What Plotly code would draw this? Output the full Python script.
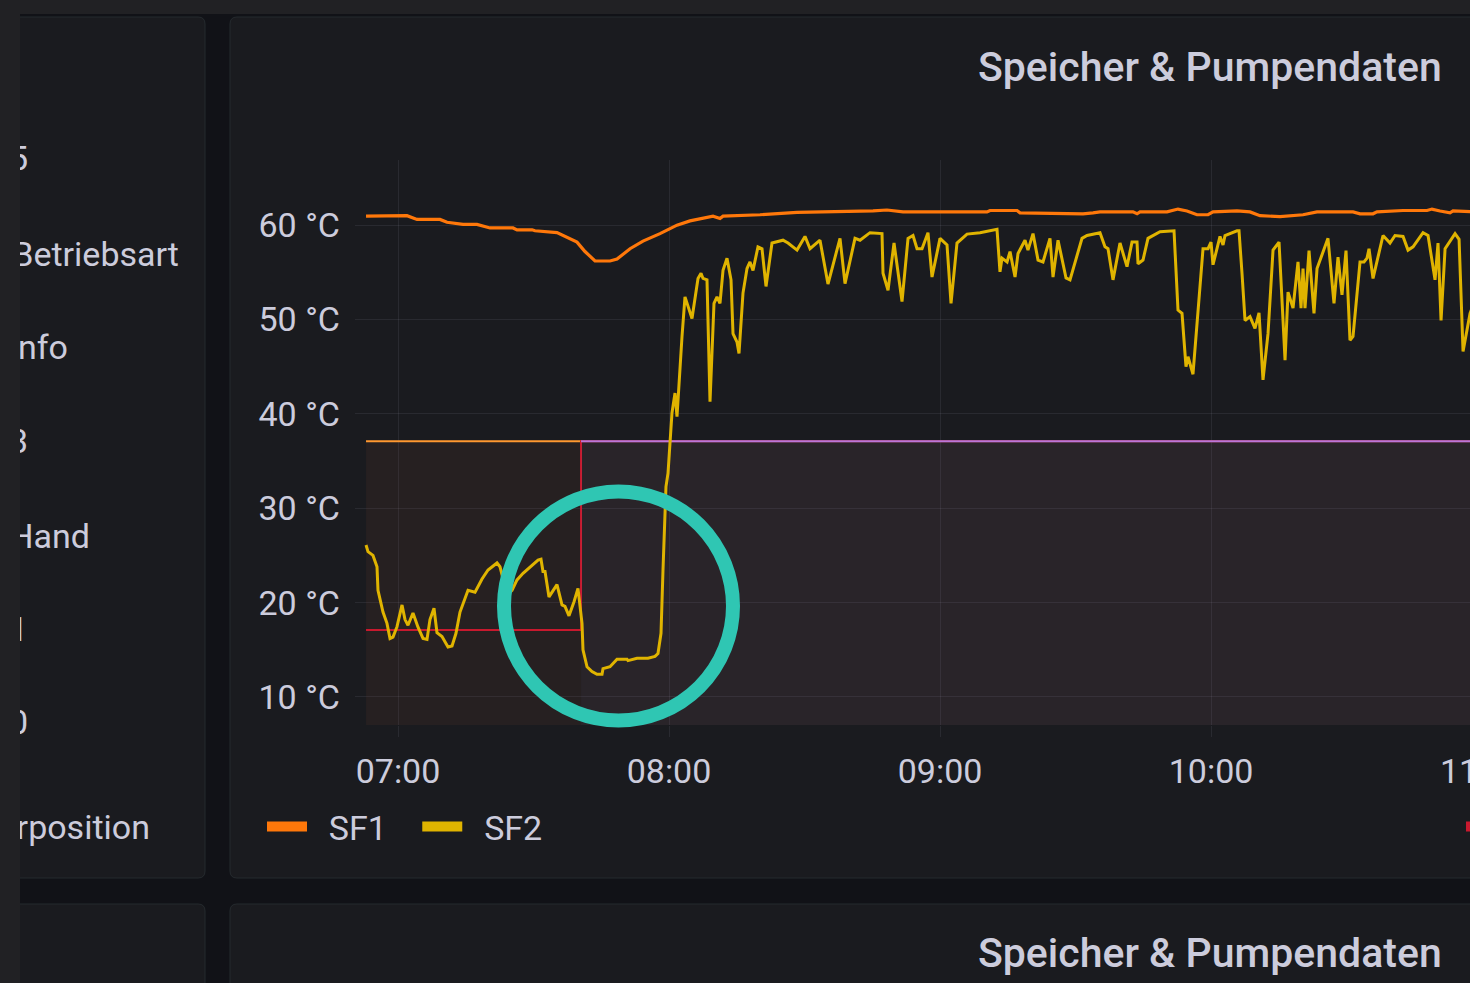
import pandas as pd
import plotly.graph_objects as go

W, H = 1470, 983

# ---------------- data (minutes after 07:00, °C) ----------------
sf1_min = [
    -7.08, 1.99, 4.21, 9.30, 10.85, 14.39, 17.49, 20.37, 25.46, 26.35,
    29.67, 30.33, 35.20, 39.63, 41.40, 43.62, 46.94, 48.49, 51.37, 54.24,
    58.01, 61.77, 64.65, 67.53, 69.74, 71.29, 71.96, 80.15, 88.34, 105.17,
    108.26, 111.81, 130.40, 131.07, 137.05, 137.71, 151.66, 153.87, 155.42, 162.73,
    163.62, 164.28, 170.26, 172.69, 174.68, 176.90, 179.34, 180.44, 185.76, 188.63,
    190.85, 195.28, 200.37, 203.47, 211.44, 212.99, 215.87, 216.75, 222.51, 227.82,
    228.93, 230.70, 232.92, 233.58, 238.45,
]
sf1_val = [
    60.95, 61.0, 60.6, 60.6, 60.3, 60.07, 60.07, 59.7, 59.7, 59.5,
    59.5, 59.4, 59.2, 58.2, 57.2, 56.2, 56.2, 56.4, 57.5, 58.3,
    59.1, 60.0, 60.45, 60.7, 60.95, 60.7, 60.95, 61.1, 61.35, 61.5,
    61.6, 61.4, 61.4, 61.55, 61.55, 61.3, 61.2, 61.3, 61.4, 61.4,
    61.2, 61.4, 61.4, 61.7, 61.5, 61.1, 61.1, 61.4, 61.5, 61.4,
    61.0, 60.9, 61.1, 61.4, 61.4, 61.2, 61.2, 61.4, 61.55, 61.55,
    61.7, 61.5, 61.3, 61.5, 61.4,
]

sf2_min = [
    -7.08, -6.64, -5.54, -4.65, -4.43, -3.32, -2.44, -1.77, -1.11, -0.22,
    0.89, 1.55, 2.21, 3.32, 4.43, 5.54, 6.42, 7.08, 7.97, 8.63,
    9.74, 11.07, 11.96, 12.84, 13.73, 15.50, 17.05, 18.60, 19.93, 21.92,
    22.58, 24.13, 25.24, 26.35, 27.68, 29.67, 31.00, 31.66, 32.10, 32.55,
    33.43, 35.20, 36.31, 36.97, 37.86, 38.97, 39.85, 40.74, 40.96, 41.85,
    42.95, 44.06, 45.17, 45.39, 46.94, 48.49, 50.70, 50.92, 52.92, 55.35,
    56.90, 57.56, 58.23, 58.67, 59.33, 59.78, 60.66, 61.33, 61.77, 62.88,
    63.54, 65.09, 66.42, 67.09, 67.53, 68.41, 69.08, 69.96, 70.63, 71.29,
    71.96, 72.84, 73.73, 74.17, 75.06, 75.50, 76.38, 77.27, 77.93, 78.60,
    79.70, 80.59, 81.48, 82.80, 85.24, 86.35, 88.34, 90.11, 91.22, 93.43,
    95.20, 97.86, 98.97, 101.18, 102.29, 104.50, 107.16, 107.38, 108.49, 109.82,
    111.59, 112.92, 114.02, 114.91, 116.02, 117.34, 118.23, 120.00, 121.55, 122.44,
    123.76, 125.98, 128.86, 132.62, 133.28, 133.73, 134.84, 135.50, 136.61, 137.27,
    138.82, 139.48, 140.59, 141.70, 142.80, 144.35, 145.02, 146.13, 147.90, 148.78,
    151.44, 152.55, 155.42, 156.53, 157.20, 158.30, 159.85, 161.40, 162.51, 163.62,
    163.84, 164.94, 166.05, 168.71, 171.81, 172.69, 173.58, 174.46, 174.91, 176.01,
    176.90, 178.23, 179.34, 180.00, 180.44, 181.99, 182.66, 183.10, 185.76, 186.20,
    186.86, 187.53, 188.63, 189.74, 190.63, 191.51, 192.62, 193.73, 195.06, 195.72,
    196.39, 197.05, 198.16, 199.26, 199.93, 200.37, 200.81, 201.70, 202.80, 203.47,
    205.90, 207.23, 208.12, 209.00, 209.89, 210.77, 211.44, 212.99, 213.87, 214.54,
    214.98, 215.87, 218.08, 219.63, 220.74, 222.51, 223.62, 224.73, 226.94, 228.05,
    229.60, 230.26, 230.93, 231.82, 234.03, 234.92, 235.80, 237.35, 238.45,
]
sf2_val = [
    26.1, 25.4, 25.0, 23.8, 21.3, 19.0, 17.8, 16.2, 16.35, 17.45,
    19.75, 18.2, 17.6, 18.9, 17.4, 16.2, 16.1, 18.2, 19.4, 16.8,
    16.4, 15.3, 15.4, 16.75, 19.0, 21.3, 21.1, 22.5, 23.45, 24.2,
    23.8, 20.8, 21.3, 22.4, 23.1, 23.9, 24.5, 24.6, 23.3, 23.3,
    20.6, 21.9, 19.75, 19.6, 18.6, 20.1, 21.5, 17.8, 15.0, 13.2,
    12.7, 12.4, 12.4, 13.0, 13.2, 14.0, 14.0, 13.85, 14.1, 14.1,
    14.3, 14.6, 16.75, 23.45, 32.3, 33.7, 40.1, 42.2, 39.7, 48.2,
    52.4, 50.1, 54.35, 54.9, 54.35, 54.2, 41.3, 51.7, 52.4, 51.7,
    55.2, 56.5, 54.2, 48.5, 47.6, 46.4, 52.8, 55.4, 56.1, 55.2,
    57.7, 57.5, 53.5, 58.1, 58.4, 58.1, 57.35, 58.8, 57.5, 58.4,
    53.75, 58.6, 53.8, 58.6, 58.4, 59.2, 59.1, 54.9, 53.1, 58.1,
    51.9, 58.6, 58.9, 57.5, 57.5, 59.2, 54.5, 58.6, 57.9, 51.7,
    58.1, 59.05, 59.2, 59.55, 55.05, 56.5, 56.1, 57.2, 54.5, 57.0,
    58.4, 57.35, 59.1, 56.3, 56.1, 58.6, 54.5, 58.4, 54.4, 54.2,
    58.6, 58.9, 59.2, 57.7, 57.5, 54.2, 58.1, 55.6, 58.2, 58.2,
    55.9, 56.3, 58.6, 59.3, 59.4, 51.0, 50.65, 45.0, 46.05, 44.2,
    49.9, 57.5, 57.5, 58.2, 55.8, 58.8, 57.9, 58.9, 59.4, 59.4,
    54.9, 49.9, 50.3, 49.05, 50.7, 43.6, 48.5, 57.35, 58.2, 52.6,
    45.7, 52.9, 51.2, 56.1, 51.2, 55.4, 51.2, 57.3, 50.65, 55.4,
    58.6, 51.7, 56.6, 52.6, 57.3, 47.8, 48.2, 56.1, 56.1, 56.5,
    57.5, 54.35, 58.9, 58.1, 58.9, 58.8, 57.35, 57.7, 59.2, 58.9,
    54.2, 58.1, 49.9, 57.5, 59.1, 58.5, 46.6, 50.65, 52.0,
]

# setpoint / band series (minutes after 07:00, °C)
band_min = [-7.08, 40.52, 238.45]      # start, switch, end
band_upper = [37.1, 37.1, 37.1]
setpoint_val = [17.1, 37.1, 37.1]

y_ticks = [10, 20, 30, 40, 50, 60]
y_tick_text = [f"{v} °C" for v in y_ticks]
x_tick_labels = ["07:00", "08:00", "09:00", "10:00", "11:00"]
panel_title = "Speicher & Pumpendaten"
series_names = ["SF1", "SF2", "Sollwert"]

left_labels = ["5", "Betriebsart", "Info", "3", "Hand", "1", "0", "Mischerposition"]
left_label_right = [28, 179, 68, 28, 90, 28, 28, 150]
left_label_row = [161, 257, 350, 444, 539, 632, 725, 830]

# ---------------- style ----------------
BG = "#111217"
PANEL = "#1a1b1f"
PANEL_LINE = "#252a2e"
STRIP = "#212124"
TEXT = "#ccccdc"
GRID = "rgba(204,204,220,0.09)"
FONT = "Roboto, 'Open Sans', sans-serif"
C_SF1 = "#FF780A"
C_SF2 = "#E0B400"
C_ORANGE = "#FF9830"
C_PURPLE = "#B877D9"
C_RED = "#C8192E"
C_RING = "#2FC6B3"
NB = "\u00a0"

base = pd.Timestamp("2021-03-01 07:00:00")


def tmin(m):
    return base + pd.to_timedelta(pd.Series(m, dtype=float), unit="min")


def X(px):
    return px / W


def Y(py):
    return 1 - py / H


def rpath(x0, y0, x1, y1, r):
    return (f"M{X(x0+r)},{Y(y0)} L{X(x1-r)},{Y(y0)} Q{X(x1)},{Y(y0)} {X(x1)},{Y(y0+r)} "
            f"L{X(x1)},{Y(y1-r)} Q{X(x1)},{Y(y1)} {X(x1-r)},{Y(y1)} "
            f"L{X(x0+r)},{Y(y1)} Q{X(x0)},{Y(y1)} {X(x0)},{Y(y1-r)} "
            f"L{X(x0)},{Y(y0+r)} Q{X(x0)},{Y(y0)} {X(x0+r)},{Y(y0)} Z")


fig = go.Figure()

# band regions
fig.add_trace(go.Scatter(
    x=tmin(band_min[:2]), y=band_upper[:2], mode="lines", fill="tozeroy",
    fillcolor="rgba(146,77,61,0.1)", line=dict(color=C_ORANGE, width=2),
    showlegend=False, hoverinfo="skip"))
fig.add_trace(go.Scatter(
    x=tmin(band_min), y=setpoint_val, mode="lines", line=dict(color=C_RED, width=2, shape="hv"),
    showlegend=False, hoverinfo="skip"))
fig.add_trace(go.Scatter(
    x=tmin(band_min[1:]), y=band_upper[1:], mode="lines", fill="tozeroy",
    fillcolor="rgba(176,117,141,0.1)", line=dict(color=C_PURPLE, width=2),
    showlegend=False, hoverinfo="skip"))

# sensor series
fig.add_trace(go.Scatter(x=tmin(sf1_min), y=sf1_val, mode="lines", name=series_names[0],
                         line=dict(color=C_SF1, width=3.2), showlegend=False))
fig.add_trace(go.Scatter(x=tmin(sf2_min), y=sf2_val, mode="lines", name=series_names[1],
                         line=dict(color=C_SF2, width=3), showlegend=False))

# legend entries
fig.add_trace(go.Scatter(x=[None], y=[None], mode="lines",
                         name=NB * 2 + series_names[0] + NB * 3,
                         line=dict(color=C_SF1, width=10), legend="legend"))
fig.add_trace(go.Scatter(x=[None], y=[None], mode="lines", name=NB * 2 + series_names[1],
                         line=dict(color=C_SF2, width=10), legend="legend"))
fig.add_trace(go.Scatter(x=[None], y=[None], mode="lines", name=NB * 2 + series_names[2],
                         line=dict(color=C_RED, width=10), legend="legend2"))

# left panel labels (clipped by their own subplot)
fig.add_trace(go.Scatter(
    x=left_label_right, y=left_label_row, mode="text", text=left_labels,
    textposition="middle left", textfont=dict(size=34, color=TEXT, family=FONT),
    xaxis="x2", yaxis="y2", showlegend=False, hoverinfo="skip", cliponaxis=True))

shapes = []
# panels
for (x0, y0, x1, y1) in [(-30, 17, 205, 878), (230, 17, 1530, 878),
                         (-30, 904, 205, 1100), (230, 904, 1530, 1100)]:
    shapes.append(dict(type="path", path=rpath(x0, y0, x1, y1, 7), xref="paper", yref="paper",
                       fillcolor=PANEL, line=dict(color=PANEL_LINE, width=1), layer="below"))
# strips
shapes.append(dict(type="rect", xref="paper", yref="paper", x0=X(0), x1=X(W), y0=Y(14), y1=Y(0),
                   fillcolor=STRIP, line=dict(width=0), layer="below"))
shapes.append(dict(type="rect", xref="paper", yref="paper", x0=X(0), x1=X(20), y0=Y(H), y1=Y(0),
                   fillcolor=STRIP, line=dict(width=0), layer="below"))
# highlight ring
cx, cy, r = 618.5, 606, 114.5
shapes.append(dict(type="circle", xref="paper", yref="paper", x0=X(cx - r), x1=X(cx + r),
                   y0=Y(cy + r), y1=Y(cy - r), line=dict(color=C_RING, width=14), layer="above"))

annotations = [
    dict(text=panel_title, x=X(1210), y=Y(67), xref="paper", yref="paper", showarrow=False,
         xanchor="center", yanchor="middle", font=dict(size=41, color=TEXT, family=FONT, weight=500)),
    dict(text=panel_title, x=X(1210), y=Y(953), xref="paper", yref="paper", showarrow=False,
         xanchor="center", yanchor="middle", font=dict(size=41, color=TEXT, family=FONT, weight=500)),
    dict(text=x_tick_labels[-1], x=X(1482), y=Y(771), xref="paper", yref="paper", showarrow=False,
         xanchor="center", yanchor="middle", font=dict(size=34, color=TEXT, family=FONT)),
]

fig.update_layout(
    width=W, height=H,
    margin=dict(l=0, r=0, t=0, b=0, autoexpand=False),
    paper_bgcolor=BG, plot_bgcolor="rgba(0,0,0,0)",
    font=dict(family=FONT, size=34, color=TEXT),
    shapes=shapes, annotations=annotations,
    xaxis=dict(
        domain=[X(355), 1.0], type="date",
        range=[base - pd.Timedelta(minutes=9.52), base + pd.Timedelta(minutes=237.34)],
        tick0=base, dtick=3600000, tickformat="%H:%M",
        showgrid=True, gridcolor=GRID, gridwidth=1, zeroline=False, showline=False,
        ticks="outside", ticklen=11, tickcolor=GRID, tickwidth=1, ticklabelstandoff=5,
        tickfont=dict(size=34, color=TEXT), fixedrange=True,
    ),
    yaxis=dict(
        domain=[Y(725), Y(160)], range=[7.03, 66.9],
        tickmode="array", tickvals=y_ticks, ticktext=y_tick_text,
        showgrid=True, gridcolor=GRID, gridwidth=1, zeroline=False, showline=False,
        ticks="", ticklabelstandoff=14, tickfont=dict(size=34, color=TEXT), fixedrange=True,
    ),
    xaxis2=dict(domain=[X(20), X(205)], range=[20, 205], visible=False, anchor="y2"),
    yaxis2=dict(domain=[0, 1], range=[H, 0], visible=False, anchor="x2"),
    legend=dict(orientation="h", x=X(262), y=Y(827), xanchor="left", yanchor="middle",
                font=dict(size=34, color=TEXT, family=FONT), bgcolor="rgba(0,0,0,0)",
                itemwidth=40, traceorder="normal"),
    legend2=dict(orientation="h", x=X(1461), y=Y(827), xanchor="left", yanchor="middle",
                 font=dict(size=34, color=TEXT, family=FONT), bgcolor="rgba(0,0,0,0)",
                 itemwidth=40),
    showlegend=True,
    hovermode=False,
)

fig.write_html(
    "out.html",
    config={"displayModeBar": False},
    post_script="document.body.style.margin='0';document.body.style.overflow='hidden';",
)
